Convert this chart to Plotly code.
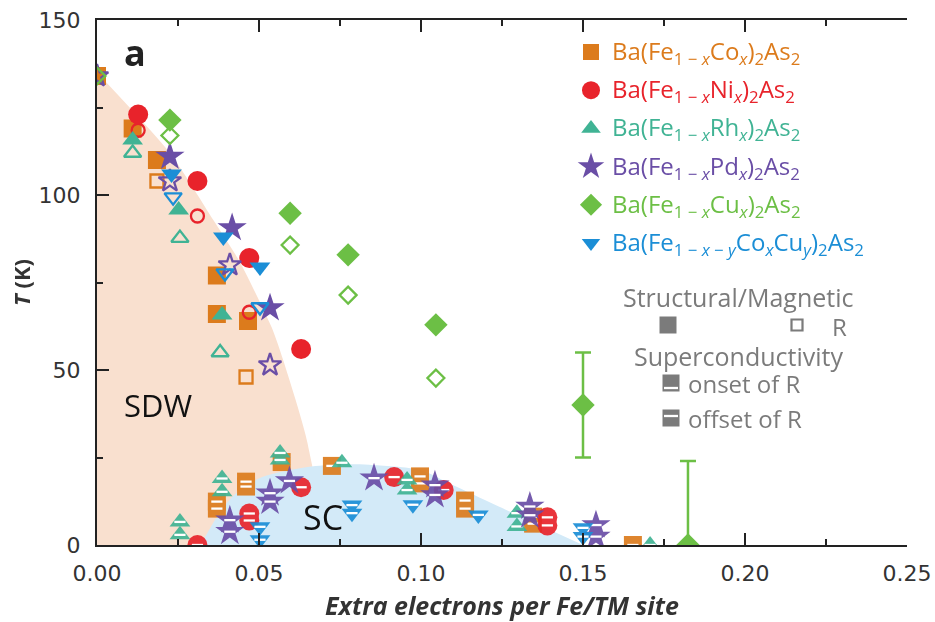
import plotly.graph_objects as go

# ---------------- data ----------------
# Co
co_x_f = [0.0, 0.011, 0.0185, 0.037, 0.037, 0.0466]
co_t_f = [134, 119, 110, 77, 66, 64]
co_x_o = [0.0185, 0.046]
co_t_o = [104, 48]
co_x_sc = [0.037, 0.037, 0.046, 0.046, 0.057, 0.0725, 0.0997, 0.0997, 0.1136, 0.1136, 0.1346, 0.1346, 0.1654]
co_t_sc = [12.4, 10.4, 18.1, 16.7, 23.7, 22.6, 19.6, 17.6, 12.7, 10.4, 8.1, 6.1, 0]
# Ni
ni_x_f = [0.0127, 0.031, 0.047, 0.063]
ni_t_f = [123, 104, 82, 56]
ni_x_o = [0.0127, 0.031, 0.047]
ni_t_o = [118.5, 94, 66.5]
ni_x_sc = [0.031, 0.047, 0.047, 0.063, 0.0917, 0.107, 0.139, 0.139]
ni_t_sc = [0, 9, 7, 16.5, 19.4, 15.7, 7.9, 5.6]
# Rh
rh_x_f = [0.011, 0.0252, 0.0386]
rh_t_f = [115.7, 95.7, 65.7]
rh_x_o = [0.011, 0.0256, 0.038]
rh_t_o = [112, 87.7, 55]
rh_x_sc = [0.0256, 0.0256, 0.0386, 0.0386, 0.0565, 0.0565, 0.0756, 0.0957, 0.0957, 0.1296, 0.1296, 0.1707]
rh_t_sc = [6.6, 2.9, 19, 15.2, 26.3, 24.3, 23.5, 18.6, 15.7, 9.1, 5.3, 0]
# Pd
pd_x_f = [0.0225, 0.0417, 0.0534]
pd_t_f = [111, 90.6, 67.7]
pd_x_o = [0.0, 0.0225, 0.041, 0.0534]
pd_t_o = [134, 104, 80, 51.4]
pd_x_sc = [0.041, 0.041, 0.0534, 0.0534, 0.0594, 0.0855, 0.1043, 0.1043, 0.1336, 0.1336, 0.154, 0.154]
pd_t_sc = [7.1, 3.8, 14.8, 12.4, 18.3, 19.1, 17.1, 14.3, 11, 8.5, 5.7, 2.4]
# Cu
cu_x_f = [0.0225, 0.0596, 0.0775, 0.1046, 0.15, 0.1824]
cu_t_f = [121.4, 94.8, 82.9, 62.9, 40, 0]
cu_err_plus = [0, 0, 0, 0, 15, 24]
cu_err_minus = [0, 0, 0, 0, 15, 0]
cu_x_o = [0.0, 0.0225, 0.0596, 0.0775, 0.1046]
cu_t_o = [134, 117, 85.7, 71.4, 47.7]
# CoCu
cc_x_f = [0.023, 0.039, 0.0503]
cc_t_f = [106, 88, 79.4]
cc_x_o = [0.0235, 0.0395, 0.0503]
cc_t_o = [99.4, 77.7, 68]
cc_x_sc = [0.0503, 0.0503, 0.0787, 0.0787, 0.0975, 0.1177, 0.15, 0.15]
cc_t_sc = [5.2, 1.5, 11.4, 9.1, 11.5, 8.6, 4.9, 2.4]

# phase boundaries
sdw_x = [0.0, 0.0225, 0.0358, 0.044, 0.054, 0.0574, 0.065, 0.068]
sdw_t = [135, 112, 93, 81, 62, 53, 29, 0]
sc_x = [0.032, 0.037, 0.042, 0.051, 0.065, 0.075, 0.084, 0.0997, 0.109, 0.124, 0.15]
sc_t = [0, 8, 14, 19.4, 22.3, 23, 22.9, 21.4, 17.5, 11, 0]

x_ticks = [0.0, 0.05, 0.10, 0.15, 0.20, 0.25]
y_ticks = [0, 50, 100, 150]

names = [
    "Ba(Fe<sub>1 − <i>x</i></sub>Co<sub><i>x</i></sub>)<sub>2</sub>As<sub>2</sub>",
    "Ba(Fe<sub>1 − <i>x</i></sub>Ni<sub><i>x</i></sub>)<sub>2</sub>As<sub>2</sub>",
    "Ba(Fe<sub>1 − <i>x</i></sub>Rh<sub><i>x</i></sub>)<sub>2</sub>As<sub>2</sub>",
    "Ba(Fe<sub>1 − <i>x</i></sub>Pd<sub><i>x</i></sub>)<sub>2</sub>As<sub>2</sub>",
    "Ba(Fe<sub>1 − <i>x</i></sub>Cu<sub><i>x</i></sub>)<sub>2</sub>As<sub>2</sub>",
    "Ba(Fe<sub>1 − <i>x</i> − <i>y</i></sub>Co<sub><i>x</i></sub>Cu<sub><i>y</i></sub>)<sub>2</sub>As<sub>2</sub>",
]
colors = ["#dc7b1c", "#e8232b", "#40b394", "#6a4ea6", "#6cbf45", "#1b8ed6"]
symbols = ["square", "circle", "triangle-up", "star", "diamond", "triangle-down"]
fsizes = [18, 20, 18, 22, 18, 18]
osizes = [13, 13, 15, 17, 13, 15]

GRAY = "#7b7b7b"
FONT = "Open Sans"

fig = go.Figure()

# shaded regions
fig.add_trace(go.Scatter(x=sdw_x + [0.0], y=sdw_t + [0], fill="toself", mode="lines",
                         line=dict(width=0, shape="spline", smoothing=0.6),
                         fillcolor="#f9e0cf", hoverinfo="skip", showlegend=False))
fig.add_trace(go.Scatter(x=sc_x, y=sc_t, fill="toself", mode="lines",
                         line=dict(width=0, shape="spline", smoothing=0.8),
                         fillcolor="#d3eaf8", hoverinfo="skip", showlegend=False))

series = [
    (co_x_f, co_t_f, co_x_o, co_t_o, co_x_sc, co_t_sc),
    (ni_x_f, ni_t_f, ni_x_o, ni_t_o, ni_x_sc, ni_t_sc),
    (rh_x_f, rh_t_f, rh_x_o, rh_t_o, rh_x_sc, rh_t_sc),
    (pd_x_f, pd_t_f, pd_x_o, pd_t_o, pd_x_sc, pd_t_sc),
    (cu_x_f, cu_t_f, cu_x_o, cu_t_o, [], []),
    (cc_x_f, cc_t_f, cc_x_o, cc_t_o, cc_x_sc, cc_t_sc),
]

for i, (xf, tf, xo, to, xs, ts) in enumerate(series):
    c = colors[i]
    s = symbols[i]
    # open (resistivity) markers
    fig.add_trace(go.Scatter(x=xo, y=to, mode="markers", showlegend=False,
                             marker=dict(symbol=s + "-open", size=osizes[i], color=c,
                                         line=dict(width=2.3, color=c))))
    # superconducting markers
    if xs:
        fig.add_trace(go.Scatter(x=xs, y=ts, mode="markers", showlegend=False, opacity=0.92,
                                 marker=dict(symbol=s, size=fsizes[i], color=c,
                                             line=dict(width=0))))
        fig.add_trace(go.Scatter(x=xs, y=ts, mode="markers", showlegend=False,
                                 marker=dict(symbol="line-ew", size=8, color="white",
                                             line=dict(width=2.3, color="white"))))
    # filled structural/magnetic markers
    kw = {}
    if i == 4:
        kw["error_y"] = dict(type="data", symmetric=False, array=cu_err_plus,
                             arrayminus=cu_err_minus, color=c, thickness=2.5, width=8)
    fig.add_trace(go.Scatter(x=xf, y=tf, mode="markers", showlegend=False,
                             marker=dict(symbol=s, size=fsizes[i], color=c, line=dict(width=0)), **kw))

# ---------------- legend (overlay axes in pixel units of plot area) ----------------
PX0, PX1, PY0, PY1 = 97, 907, 545, 20
leg_icon_x = 591
leg_text_x = 610
leg_top = 52
leg_step = 38.2
icon_sizes = [16, 18, 17, 20, 17, 16]
for i in range(6):
    yy = leg_top + i * leg_step
    fig.add_trace(go.Scatter(x=[leg_icon_x], y=[yy], xaxis="x2", yaxis="y2", mode="markers",
                             showlegend=False, cliponaxis=False, hoverinfo="skip",
                             marker=dict(symbol=symbols[i], size=icon_sizes[i], color=colors[i])))
    fig.add_annotation(x=leg_text_x, y=yy, xref="x2", yref="y2", text=names[i],
                       showarrow=False, xanchor="left", yanchor="middle",
                       font=dict(family=FONT, size=24, color=colors[i]))

# structural/magnetic & SC key
KEYF = 24
fig.add_annotation(x=738, y=297, xref="x2", yref="y2", text="Structural/Magnetic", showarrow=False,
                   font=dict(family=FONT, size=25, color=GRAY))
fig.add_annotation(x=738, y=356, xref="x2", yref="y2", text="Superconductivity", showarrow=False,
                   font=dict(family=FONT, size=25, color=GRAY))
fig.add_annotation(x=830, y=326, xref="x2", yref="y2", text="R", showarrow=False, xanchor="left",
                   font=dict(family=FONT, size=KEYF, color=GRAY))
fig.add_annotation(x=686, y=383, xref="x2", yref="y2", text="onset of R", showarrow=False, xanchor="left",
                   font=dict(family=FONT, size=KEYF, color=GRAY))
fig.add_annotation(x=686, y=418, xref="x2", yref="y2", text="offset of R", showarrow=False, xanchor="left",
                   font=dict(family=FONT, size=KEYF, color=GRAY))
fig.add_trace(go.Scatter(x=[668, 671, 671], y=[325, 383, 418], xaxis="x2", yaxis="y2", mode="markers",
                         showlegend=False, cliponaxis=False, hoverinfo="skip",
                         marker=dict(symbol="square", size=17, color=GRAY)))
fig.add_trace(go.Scatter(x=[797], y=[325], xaxis="x2", yaxis="y2", mode="markers",
                         showlegend=False, cliponaxis=False, hoverinfo="skip",
                         marker=dict(symbol="square-open", size=11, color=GRAY, line=dict(width=2.2, color=GRAY))))
fig.add_trace(go.Scatter(x=[671, 671], y=[388, 416], xaxis="x2", yaxis="y2", mode="markers",
                         showlegend=False, cliponaxis=False, hoverinfo="skip",
                         marker=dict(symbol="line-ew", size=10, color="white", line=dict(width=2.3, color="white"))))

# panel & region labels
fig.add_annotation(x=135, y=52, xref="x2", yref="y2", text="<b>a</b>", showarrow=False,
                   font=dict(family=FONT, size=36, color="#222"))
fig.add_annotation(x=158, y=405, xref="x2", yref="y2", text="SDW", showarrow=False,
                   font=dict(family=FONT, size=31, color="#111"))
fig.add_annotation(x=323, y=517, xref="x2", yref="y2", text="SC", showarrow=False,
                   font=dict(family=FONT, size=34, color="#111"))

axis_color = "#222"
fig.update_layout(
    width=935, height=622,
    margin=dict(l=PX0, r=935 - PX1, t=PY1, b=622 - PY0, autoexpand=False),
    plot_bgcolor="white", paper_bgcolor="white",
    showlegend=False,
    xaxis=dict(range=[0, 0.25], tickvals=x_ticks, tickformat=".2f", ticks="inside", ticklen=12,
               tickwidth=2, tickcolor=axis_color, showline=True, linewidth=2, linecolor=axis_color,
               mirror="ticks", showgrid=False, zeroline=False, automargin=False,
               minor=dict(dtick=0.025, ticks="inside", ticklen=6, tickwidth=2, tickcolor=axis_color, showgrid=False),
               tickfont=dict(family="DejaVu Sans", size=22, color="#333"), ticklabelstandoff=8,
               title=dict(text="<b><i>Extra electrons per Fe/TM site</i></b>", standoff=14,
                          font=dict(family=FONT, size=25, color="#333"))),
    yaxis=dict(range=[0, 150], tickvals=y_ticks, ticks="inside", ticklen=12, tickwidth=2,
               tickcolor=axis_color, showline=True, linewidth=2, linecolor=axis_color,
               showgrid=False, zeroline=False, automargin=False,
               minor=dict(dtick=25, ticks="inside", ticklen=6, tickwidth=2, tickcolor=axis_color, showgrid=False),
               tickfont=dict(family="DejaVu Sans", size=22, color="#333"), ticklabelstandoff=10,
               title=dict(text="<b><i>T</i> (K)</b>", standoff=2,
                          font=dict(family=FONT, size=22, color="#333"))),
    xaxis2=dict(range=[PX0, PX1], overlaying="x", visible=False, anchor="y2", automargin=False),
    yaxis2=dict(range=[PY0, PY1], overlaying="y", visible=False, anchor="x2", automargin=False),
)

fig.write_html("out.html", config={"displayModeBar": False},
               post_script="document.body.style.margin='0';document.body.style.overflow='hidden';")
